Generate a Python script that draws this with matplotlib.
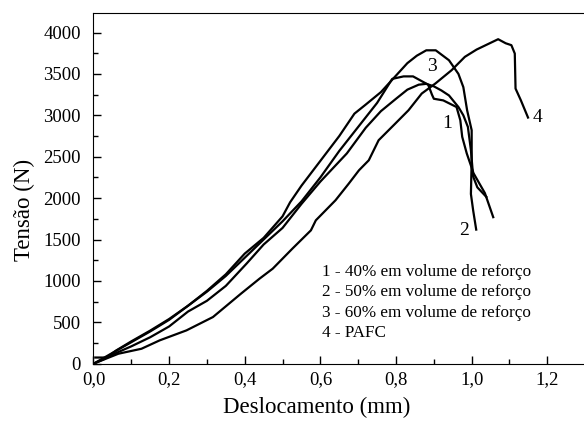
import matplotlib
matplotlib.use("Agg")
import matplotlib.pyplot as plt
from matplotlib.ticker import MultipleLocator, FuncFormatter

# curve 1 - 40% reinforcement
x1 = [0, 0.05, 0.1, 0.15, 0.2, 0.25, 0.3, 0.35, 0.4, 0.45, 0.5, 0.55, 0.6, 0.65,
      0.7, 0.75, 0.79, 0.82, 0.845, 0.865, 0.885, 0.895, 0.9, 0.925, 0.96, 0.97,
      0.975, 0.987, 1.005, 1.035, 1.057]
y1 = [0, 130, 260, 390, 530, 700, 870, 1060, 1280, 1500, 1720, 1960, 2250, 2570,
      2860, 3150, 3440, 3470, 3470, 3420, 3370, 3250, 3200, 3180, 3100, 2940,
      2740, 2540, 2300, 2060, 1770]

# curve 2 - 50%
x2 = [0.005, 0.035, 0.06, 0.1, 0.15, 0.2, 0.25, 0.3, 0.35, 0.405, 0.45, 0.5, 0.55,
      0.6, 0.67, 0.72, 0.76, 0.8, 0.83, 0.86, 0.88, 0.9, 0.92, 0.94, 0.965, 0.978,
      0.99, 0.998, 1.004, 1.015, 1.039]
y2 = [75, 75, 130, 210, 320, 450, 630, 760, 940, 1210, 1440, 1640, 1930, 2200, 2540,
      2850, 3050, 3200, 3310, 3370, 3380, 3350, 3300, 3240, 3100, 3000, 2860, 2580,
      2260, 2130, 2014]

# curve 3 - 60%
x3 = [0, 0.03, 0.06, 0.1, 0.15, 0.2, 0.25, 0.3, 0.35, 0.4, 0.45, 0.5, 0.52, 0.55,
      0.6, 0.65, 0.69, 0.72, 0.76, 0.8, 0.83, 0.855, 0.88, 0.905, 0.94, 0.965,
      0.978, 0.988, 1.0, 1.0, 0.998, 1.004, 1.012]
y3 = [0, 60, 160, 270, 400, 540, 700, 880, 1080, 1330, 1520, 1780, 1950, 2150,
      2450, 2750, 3020, 3130, 3280, 3480, 3630, 3720, 3785, 3785, 3665, 3500,
      3340, 3060, 2820, 2450, 2050, 1850, 1620]

# curve 4 - PAFC
x4 = [0, 0.026, 0.066, 0.127, 0.175, 0.246, 0.316, 0.39, 0.439, 0.474, 0.526,
      0.575, 0.588, 0.64, 0.675, 0.702, 0.728, 0.754, 0.798, 0.833, 0.868, 0.904,
      0.947, 0.982, 1.013, 1.07, 1.09, 1.105, 1.114, 1.116, 1.13, 1.149]
y4 = [0, 48, 121, 181, 282, 403, 564, 846, 1027, 1148, 1390, 1611, 1732, 1974,
      2175, 2336, 2457, 2699, 2900, 3061, 3263, 3384, 3545, 3706, 3794, 3919,
      3870, 3847, 3746, 3323, 3182, 2973]

curve_labels = ["1", "2", "3", "4"]
label_pos = [(0.935, 2900), (0.98, 1610), (0.895, 3590), (1.175, 2975)]
legend_lines = ["1 - 40% em volume de reforço",
                "2 - 50% em volume de reforço",
                "3 - 60% em volume de reforço",
                "4 - PAFC"]

plt.rcParams['font.family'] = ['Liberation Serif', 'DejaVu Serif']

fig = plt.figure(figsize=(5.84, 4.21), dpi=100)
ax = fig.add_axes([0.16, 0.136, 0.84, 0.834])

for xs, ys in [(x1, y1), (x2, y2), (x3, y3), (x4, y4)]:
    ax.plot(xs, ys, color='black', lw=1.6)

for lab, (px, py) in zip(curve_labels, label_pos):
    ax.text(px, py, lab, fontsize=14, ha='center', va='center')

for i, t in enumerate(legend_lines):
    ax.text(0.604, 1110 - i * 248, t, fontsize=12.3, va='center', ha='left')

ax.set_xlim(0, 1.297)
ax.set_ylim(0, 4240)
ax.spines['right'].set_visible(False)
ax.xaxis.set_major_locator(MultipleLocator(0.2))
ax.xaxis.set_minor_locator(MultipleLocator(0.1))
ax.yaxis.set_major_locator(MultipleLocator(500))
ax.yaxis.set_minor_locator(MultipleLocator(250))
ax.xaxis.set_major_formatter(FuncFormatter(lambda v, p: f"{v:.1f}".replace('.', ',')))
ax.tick_params(which='both', direction='in', top=False, right=False, labelsize=13.5)
ax.tick_params(which='major', length=6, width=1)
ax.tick_params(which='minor', length=3.5, width=1)
ax.tick_params(axis='x', which='major', pad=5)
ax.tick_params(axis='y', which='major', pad=9)
ax.set_xlabel("Deslocamento (mm)", fontsize=16.5)
ax.set_ylabel("Tensão (N)", fontsize=16.5)
ax.xaxis.set_label_coords(0.456, -0.093)
ax.yaxis.set_label_coords(-0.12, 0.438)

fig.savefig("out.png", dpi=100)
